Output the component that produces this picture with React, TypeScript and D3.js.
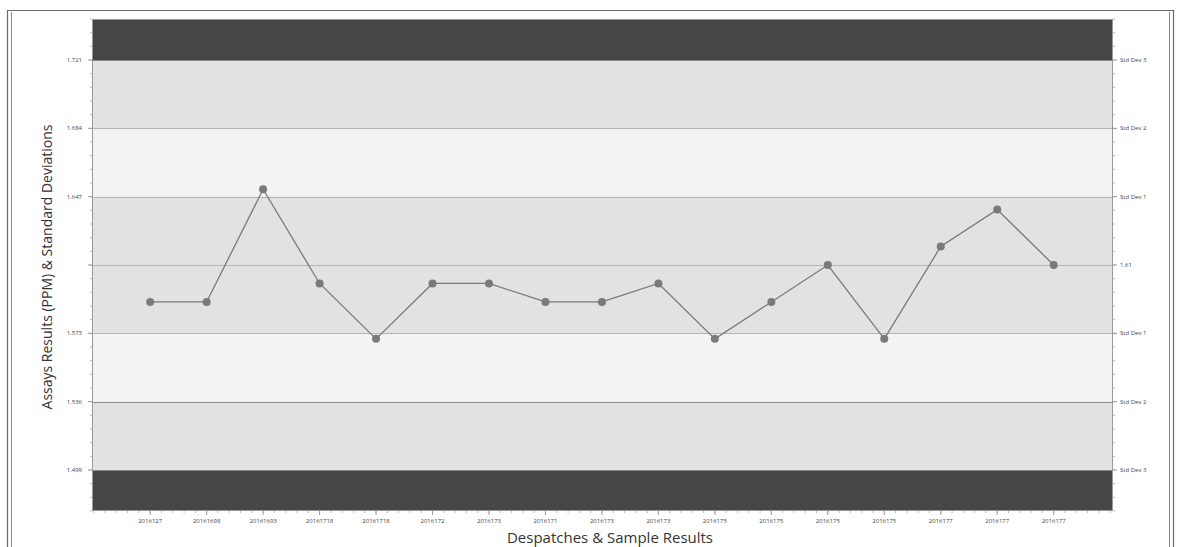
import React from "react";
import * as d3 from "d3";

const categories = [
  "2016127", "20161698", "20161693", "20161718", "20161718", "2016172", "2016173", "2016171",
  "2016173", "2016173", "2016175", "2016175", "2016175", "2016175", "2016177", "2016177", "2016177",
];
const values = [1.59, 1.59, 1.651, 1.6, 1.57, 1.6, 1.6, 1.59, 1.59, 1.6, 1.57, 1.59, 1.61, 1.57, 1.62, 1.64, 1.61];
const mean = 1.61;
const sigma = 0.037;
const leftTickLabels = ["1.721", "1.684", "1.647", "", "1.573", "1.536", "1.499"];
const rightTickLabels = ["Std Dev 3", "Std Dev 2", "Std Dev 1", "1.61", "Std Dev 1", "Std Dev 2", "Std Dev 3"];
const sigmaSteps = [3, 2, 1, 0, -1, -2, -3];

const W = 1180;
const H = 547;
const M = { left: 92, right: 67, top: 19, bottom: 36 };

export default function App() {
  const innerL = M.left;
  const innerR = W - M.right;
  const innerT = M.top;
  const innerB = H - M.bottom;

  const y = d3.scaleLinear().domain([mean - 3.6 * sigma, mean + 3.6 * sigma]).range([innerB, innerT]);
  const xMin = -0.03;
  const xMax = categories.length + 1.05;
  const x = d3.scaleLinear().domain([xMin, xMax]).range([innerL, innerR]);
  const xi = (i: number) => x(i + 1);

  const bands = [
    { lo: mean + 3 * sigma, hi: mean + 3.6 * sigma, fill: "#464646" },
    { lo: mean + 2 * sigma, hi: mean + 3 * sigma, fill: "#e2e2e2" },
    { lo: mean + 1 * sigma, hi: mean + 2 * sigma, fill: "#f3f3f3" },
    { lo: mean - 1 * sigma, hi: mean + 1 * sigma, fill: "#e2e2e2" },
    { lo: mean - 2 * sigma, hi: mean - 1 * sigma, fill: "#f3f3f3" },
    { lo: mean - 3 * sigma, hi: mean - 2 * sigma, fill: "#e2e2e2" },
    { lo: mean - 3.6 * sigma, hi: mean - 3 * sigma, fill: "#464646" },
  ];

  const line = d3
    .line<number>()
    .x((_, i) => xi(i))
    .y((d) => y(d));

  const minorY: number[] = [];
  for (let k = -18; k <= 18; k++) minorY.push(mean + (k * sigma) / 5);
  const minorX: number[] = [];
  for (let k = 0; k <= (categories.length + 1) * 5; k++) {
    const v = k / 5;
    if (v >= xMin && v <= xMax) minorX.push(v);
  }

  const gridColor = (s: number) => (s === -2 ? "#8f8f8f" : Math.abs(s) === 3 ? "#888" : "#b4b4b4");

  return (
    <svg width={W} height={H} style={{ position: "absolute", left: 0, top: 0 }} fontFamily="'Open Sans', sans-serif">
      <rect x={0} y={0} width={W} height={H} fill="#fff" />
      <line x1={7} x2={1174} y1={10.5} y2={10.5} stroke="#6a6a6a" strokeWidth={1.2} />
      <line x1={7.5} x2={7.5} y1={10} y2={H} stroke="#6a6a6a" strokeWidth={1.2} />
      <line x1={11.5} x2={11.5} y1={12} y2={H} stroke="#8a8a8a" strokeWidth={1} />
      <line x1={1173.5} x2={1173.5} y1={10} y2={H} stroke="#6a6a6a" strokeWidth={1.2} />
      <line x1={1169.5} x2={1169.5} y1={12} y2={H} stroke="#8a8a8a" strokeWidth={1} />

      {bands.map((b, i) => (
        <rect key={i} x={innerL} y={y(b.hi)} width={innerR - innerL} height={y(b.lo) - y(b.hi)} fill={b.fill} />
      ))}
      {sigmaSteps.map((s) => (
        <line
          key={s}
          x1={innerL}
          x2={innerR}
          y1={Math.round(y(mean + s * sigma)) + 0.5}
          y2={Math.round(y(mean + s * sigma)) + 0.5}
          stroke={gridColor(s)}
          strokeWidth={1}
        />
      ))}
      <rect x={innerL + 0.5} y={innerT + 0.5} width={innerR - innerL - 1} height={innerB - innerT - 1} fill="none" stroke="#9a9a9a" />

      {minorY.map((v, i) => (
        <line key={i} x1={innerL - 2} x2={innerL} y1={y(v)} y2={y(v)} stroke="#aaa" strokeWidth={0.8} />
      ))}
      {sigmaSteps.map((s, i) => (
        <g key={s}>
          <line x1={innerL - 4} x2={innerL} y1={y(mean + s * sigma)} y2={y(mean + s * sigma)} stroke="#999" />
          <text x={innerL - 10} y={y(mean + s * sigma)} dy="0.35em" fontSize={6} textAnchor="end" fill="#444">
            {leftTickLabels[i]}
          </text>
        </g>
      ))}
      {minorY.map((v, i) => (
        <line key={i} x1={innerR} x2={innerR + 2} y1={y(v)} y2={y(v)} stroke="#aaa" strokeWidth={0.8} />
      ))}
      {sigmaSteps.map((s, i) => (
        <g key={s}>
          <line x1={innerR} x2={innerR + 4} y1={y(mean + s * sigma)} y2={y(mean + s * sigma)} stroke="#999" />
          <text x={innerR + 7} y={y(mean + s * sigma)} dy="0.35em" fontSize={6} textAnchor="start" fill="#444">
            {rightTickLabels[i]}
          </text>
        </g>
      ))}
      {minorX.map((v, i) => (
        <line key={i} x1={x(v)} x2={x(v)} y1={innerB} y2={innerB + 2} stroke="#aaa" strokeWidth={0.8} />
      ))}
      {categories.map((c, i) => (
        <g key={i}>
          <line x1={xi(i)} x2={xi(i)} y1={innerB} y2={innerB + 4} stroke="#999" />
          <text x={xi(i)} y={innerB + 12} fontSize={6} textAnchor="middle" fill="#444">
            {c}
          </text>
        </g>
      ))}

      <path d={line(values) || ""} fill="none" stroke="#7a7a7a" strokeWidth={1.3} />
      {values.map((v, i) => (
        <circle key={i} cx={xi(i)} cy={y(v)} r={4} fill="#7a7a7a" />
      ))}

      <text
        transform={`translate(${52},${(innerT + innerB) / 2 + 2}) rotate(-90)`}
        textAnchor="middle"
        fontSize={14}
        fill="#333"
      >
        Assays Results (PPM) &amp; Standard Deviations
      </text>
      <text x={610} y={543} textAnchor="middle" fontSize={15} fill="#333">
        Despatches &amp; Sample Results
      </text>
    </svg>
  );
}
